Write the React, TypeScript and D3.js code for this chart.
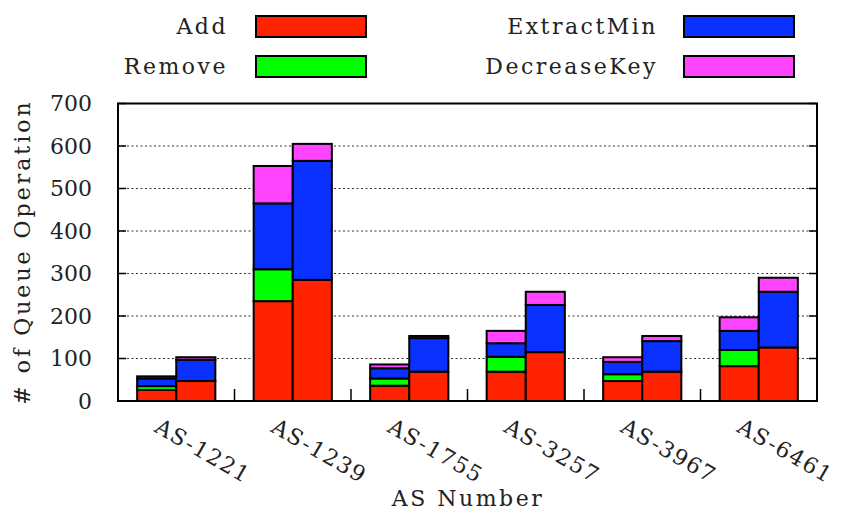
import React from 'react'
import * as d3 from 'd3'

// AS numbers on the x axis
const categories = ['AS-1221', 'AS-1239', 'AS-1755', 'AS-3257', 'AS-3967', 'AS-6461']
const operations = ['Add', 'Remove', 'ExtractMin', 'DecreaseKey']
const colors = ['#ff2200', '#00ff00', '#0a30ff', '#ff44ff']

// first bar of each group
const addA = [26, 235, 36, 69, 47, 82]
const removeA = [9, 75, 17, 35, 16, 38]
const extractA = [18, 155, 24, 32, 29, 45]
const decreaseA = [5, 88, 9, 29, 11, 32]

// second bar of each group
const addB = [47, 285, 69, 115, 69, 126]
const removeB = [0, 0, 0, 0, 0, 0]
const extractB = [50, 280, 79, 111, 72, 131]
const decreaseB = [6, 40, 5, 31, 12, 33]

const yTicks = [0, 100, 200, 300, 400, 500, 600, 700]

const W = 841, H = 513
const margin = { top: 103.5, right: 24, bottom: 112, left: 118 }
const font = '"DejaVu Serif", serif'

function buildRows(add: number[], rem: number[], ext: number[], dec: number[]) {
  return categories.map((c, i) => ({
    cat: c, Add: add[i], Remove: rem[i], ExtractMin: ext[i], DecreaseKey: dec[i]
  }))
}

export default function App() {
  const left = margin.left, right = W - margin.right
  const top = margin.top, bottom = H - margin.bottom

  const x0 = d3.scaleBand().domain(categories).range([left, right]).padding(0)
  const x1 = d3.scaleBand().domain(['A', 'B']).range([0, x0.bandwidth()]).paddingInner(0).paddingOuter(0.49)
  const y = d3.scaleLinear().domain([0, 700]).range([bottom, top])

  const stack = d3.stack<any>().keys(operations)
  const sets = [
    { key: 'A', layers: stack(buildRows(addA, removeA, extractA, decreaseA)) },
    { key: 'B', layers: stack(buildRows(addB, removeB, extractB, decreaseB)) },
  ]

  const legend = [
    { name: 'Add', tx: 228, ty: 34, bx: 256, by: 16 },
    { name: 'Remove', tx: 228, ty: 74, bx: 256, by: 56 },
    { name: 'ExtractMin', tx: 658, ty: 34, bx: 684, by: 16 },
    { name: 'DecreaseKey', tx: 658, ty: 74, bx: 684, by: 56 },
  ]

  return (
    <>
      <style>{`body{margin:0}`}</style>
      <svg width={W} height={H} style={{ display: 'block', background: '#fff' }}>
        {/* grid */}
        {yTicks.filter(t => t > 0 && t < 700).map(t => (
          <line key={'g' + t} x1={left} x2={right} y1={y(t)} y2={y(t)}
            stroke="#333" strokeWidth={1.2} strokeDasharray="2,2.5" />
        ))}
        {/* y ticks, both sides */}
        {yTicks.map(t => (
          <g key={'t' + t}>
            <line x1={left} x2={left + 8} y1={y(t)} y2={y(t)} stroke="#000" strokeWidth={1.5} />
            <line x1={right - 8} x2={right} y1={y(t)} y2={y(t)} stroke="#000" strokeWidth={1.5} />
            <text x={92} y={y(t)} dy="0.36em" textAnchor="end" fontFamily={font} fontSize={22}
              fill="#222">{t}</text>
          </g>
        ))}
        {/* x ticks between groups */}
        {categories.slice(1).map(c => (
          <line key={'x' + c} x1={x0(c)} x2={x0(c)} y1={bottom} y2={bottom - 12}
            stroke="#000" strokeWidth={1.5} />
        ))}
        {/* bars */}
        {sets.map((s, si) => s.layers.map((layer, li) => layer.map((d, i) => {
          const h = y(d[0]) - y(d[1])
          if (h <= 0) return null
          return (
            <rect key={`${si}-${li}-${i}`}
              x={(x0(categories[i]) as number) + (x1(s.key) as number)}
              y={y(d[1])} width={x1.bandwidth()} height={h}
              fill={colors[li]} stroke="#000" strokeWidth={2} />
          )
        })))}
        {/* frame */}
        <rect x={left} y={top} width={right - left} height={bottom - top}
          fill="none" stroke="#000" strokeWidth={2} />
        {/* x labels */}
        {categories.map(c => {
          const cx = (x0(c) as number) + x0.bandwidth() / 2 - 23
          return (
            <text key={'l' + c} transform={`translate(${cx},431) rotate(30)`}
              fontFamily={font} fontSize={22} letterSpacing={1.5} fill="#222">{c}</text>
          )
        })}
        <text x={468} y={506} textAnchor="middle" fontFamily={font} fontSize={22}
          letterSpacing={2.5} fill="#222">AS Number</text>
        <text transform={`translate(30,252) rotate(-90)`} textAnchor="middle" fontFamily={font}
          fontSize={22} letterSpacing={3} fill="#222"># of Queue Operation</text>
        {/* legend */}
        {legend.map((l, i) => (
          <g key={l.name}>
            <text x={l.tx} y={l.ty} textAnchor="end" fontFamily={font} fontSize={22}
              letterSpacing={2.5} fill="#222">{l.name}</text>
            <rect x={l.bx} y={l.by} width={110} height={21} fill={colors[i]}
              stroke="#000" strokeWidth={2} />
          </g>
        ))}
      </svg>
    </>
  )
}
